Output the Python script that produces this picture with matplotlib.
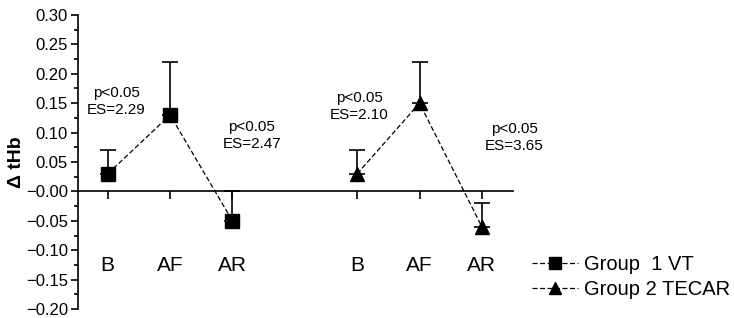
import matplotlib.pyplot as plt
import matplotlib.ticker as mtick

plt.rcParams['font.family'] = ['Liberation Sans', 'DejaVu Sans']

# data
phases = ["B", "AF", "AR"]
pos_vt = [1, 2, 3]
pos_tecar = [5, 6, 7]
vt_mean = [0.03, 0.13, -0.05]
vt_err = [0.04, 0.09, 0.05]
tecar_mean = [0.03, 0.15, -0.06]
tecar_err = [0.04, 0.07, 0.04]

ann_text = ["p<0.05\nES=2.29", "p<0.05\nES=2.47", "p<0.05\nES=2.10", "p<0.05\nES=3.65"]
ann_x = [1.14, 3.31, 5.03, 7.52]
ann_y = [0.153, 0.095, 0.145, 0.092]

y_ticks = [-0.20, -0.15, -0.10, -0.05, 0.0, 0.05, 0.10, 0.15, 0.20, 0.25, 0.30]
y_tick_labels = ["\u22120.20", "\u22120.15", "\u22120.10", "\u22120.05", "\u22120.00", "0.05", "0.10",
                 "0.15", "0.20", "0.25", "0.30"]

fig = plt.figure(figsize=(7.34, 3.18), dpi=100)
ax = fig.add_axes([0.106, 0.028, 0.593, 0.925])

# upper-only error bars
ax.errorbar(pos_vt, vt_mean, yerr=[[0] * 3, vt_err], fmt='none', ecolor='black',
            elinewidth=1.2, capsize=6, capthick=1.2, zorder=2)
ax.errorbar(pos_tecar, tecar_mean, yerr=[[0] * 3, tecar_err], fmt='none', ecolor='black',
            elinewidth=1.2, capsize=6, capthick=1.2, zorder=2)

ax.plot(pos_vt, vt_mean, linestyle=(0, (4, 2)), color='black', linewidth=0.9,
        marker='s', markersize=10, label="Group  1 VT", zorder=3)
ax.plot(pos_tecar, tecar_mean, linestyle=(0, (4, 2)), color='black', linewidth=0.9,
        marker='^', markersize=10, label="Group 2 TECAR", zorder=3)

for t, x, y in zip(ann_text, ann_x, ann_y):
    ax.text(x, y, t, ha='center', va='center', fontsize=11, linespacing=1.25, clip_on=False)

for x, lab in zip(pos_vt + pos_tecar, phases + phases):
    ax.text(x, -0.126, lab, ha='center', va='center', fontsize=15)

ax.set_xlim(0.52, 7.5)
ax.set_ylim(-0.20, 0.30)
ax.set_yticks(y_ticks)
ax.set_yticklabels(y_tick_labels, fontsize=12)
ax.yaxis.set_minor_locator(mtick.MultipleLocator(0.025))
ax.tick_params(axis='y', which='major', direction='out', length=5, width=1.2, pad=2)
ax.tick_params(axis='y', which='minor', direction='out', length=3, width=1.2)

ax.set_xticks(pos_vt + pos_tecar)
ax.set_xticklabels([])
ax.tick_params(axis='x', direction='out', length=6, width=1.2)

ax.spines['top'].set_visible(False)
ax.spines['right'].set_visible(False)
ax.spines['bottom'].set_position(('data', 0))
ax.spines['left'].set_linewidth(1.2)
ax.spines['bottom'].set_linewidth(1.2)

ax.set_ylabel("Δ tHb", fontsize=14, fontweight='bold', labelpad=1)

ax.legend(loc='center left', bbox_to_anchor=(1.01, 0.108), frameon=False, fontsize=14.5,
          handlelength=2.3, labelspacing=0.3, handletextpad=0.3, markerscale=0.8,
          borderaxespad=0.3)

fig.savefig("out.png", dpi=100)
